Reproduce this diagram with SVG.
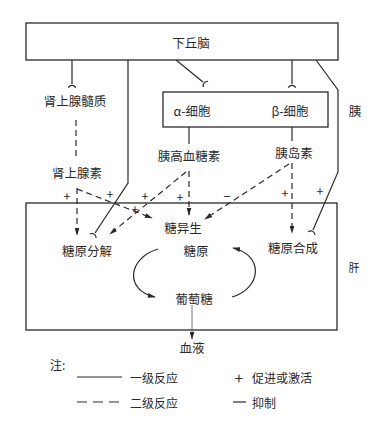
<svg xmlns="http://www.w3.org/2000/svg" width="383" height="424" viewBox="0 0 383 424">
<defs>
<style>
text{font-family:"Noto Sans CJK SC","Noto Sans",sans-serif;font-size:12.5px;fill:#2a2a2a;text-anchor:middle;dominant-baseline:central}
.box{fill:none;stroke:#2a2a2a;stroke-width:1.3}
.s{fill:none;stroke:#2a2a2a;stroke-width:1.2}
.d{fill:none;stroke:#2a2a2a;stroke-width:1.2;stroke-dasharray:6 4}
.sm{font-size:11px}
.lg{font-size:12px;text-anchor:start}
</style>
<marker id="arr" viewBox="0 0 10 6" refX="9" refY="3" markerWidth="8" markerHeight="5" markerUnits="userSpaceOnUse" orient="auto">
<path d="M0,0 L10,3 L0,6 Z" fill="#2a2a2a"/>
</marker>
<marker id="fork" viewBox="-5 -5 10 10" refX="0" refY="0" markerWidth="10" markerHeight="10" markerUnits="userSpaceOnUse" orient="auto">
<path d="M3.5,-3.8 Q-0.8,0 3.5,3.8" fill="none" stroke="#2a2a2a" stroke-width="1.2"/>
</marker>
</defs>
<rect width="383" height="424" fill="#fff"/>

<g id="hypothalamus"><rect class="box" x="26" y="23" width="312" height="37"/><text x="191" y="42">下丘脑</text></g>
<g id="adrenal-medulla"><text x="75" y="100">肾上腺髓质</text></g>
<g id="islet-cells"><rect class="box" x="163" y="92" width="165" height="35"/><text x="192" y="110">α-细胞</text><text x="290" y="110">β-细胞</text></g>
<g id="pancreas"><text x="355" y="110">胰</text></g>
<g id="glucagon"><text x="189" y="155">胰高血糖素</text></g>
<g id="insulin"><text x="294" y="152">胰岛素</text></g>
<g id="adrenaline"><text x="77" y="172">肾上腺素</text></g>
<g id="liver"><rect class="box" x="26" y="203" width="311" height="127"/><text class="sm" x="354" y="267">肝</text></g>
<g id="gluconeogenesis"><text x="183" y="227">糖异生</text></g>
<g id="glycogenolysis"><text x="87" y="250">糖原分解</text></g>
<g id="glycogen"><text x="196" y="250">糖原</text></g>
<g id="glycogenesis"><text x="293" y="247">糖原合成</text></g>
<g id="glucose"><text x="194" y="298">葡萄糖</text></g>
<g id="blood"><text x="192" y="347">血液</text></g>

<g id="connectors">
<line class="s" x1="72" y1="60" x2="72" y2="84" marker-end="url(#fork)"/>
<polyline class="s" points="128,60 128,183 95,233" marker-end="url(#fork)"/>
<line class="s" x1="176" y1="60" x2="203" y2="82" marker-end="url(#fork)"/>
<line class="s" x1="292" y1="60" x2="292" y2="84" marker-end="url(#fork)"/>
<polyline class="s" points="316,60 338,90 338,172 313,230" marker-end="url(#fork)"/>
<line class="d" x1="76" y1="120" x2="76" y2="160"/>
<line class="d" x1="77" y1="188" x2="77" y2="235" marker-end="url(#arr)"/>
<line class="d" x1="77" y1="189" x2="152" y2="218" marker-end="url(#arr)"/>
<line class="s" x1="189" y1="127" x2="189" y2="144"/>
<line class="d" x1="189" y1="171" x2="189" y2="215" marker-end="url(#arr)"/>
<line class="d" x1="186" y1="172" x2="110" y2="234" marker-end="url(#arr)"/>
<line class="s" x1="292" y1="127" x2="292" y2="141"/>
<line class="d" x1="292" y1="163" x2="292" y2="233" marker-end="url(#arr)"/>
<line class="d" x1="289" y1="164" x2="205" y2="219" marker-end="url(#arr)"/>
<path class="s" d="M158,249 C128,258 124,290 155,297" marker-end="url(#arr)"/>
<path class="s" d="M232,297 C262,288 264,255 233,248" marker-end="url(#arr)"/>
<line x1="192" y1="305" x2="192" y2="339" stroke="#555" stroke-width="0.8" marker-end="url(#arr)"/>
</g>

<g id="signs">
<text x="67" y="195">+</text>
<text x="110" y="193">+</text>
<text x="135" y="208">+</text>
<text x="145" y="195">+</text>
<text x="180" y="196">+</text>
<text x="227" y="195">−</text>
<text x="285" y="192">+</text>
<text x="320" y="190">+</text>
</g>

<g id="legend">
<text class="lg" x="50" y="364">注:</text>
<line class="s" x1="77" y1="377" x2="122" y2="377"/>
<text class="lg" x="130" y="377">一级反应</text>
<text x="239" y="377" style="font-size:15px">+</text>
<text class="lg" x="252" y="377">促进或激活</text>
<line class="d" x1="77" y1="402" x2="122" y2="402" style="stroke-dasharray:10 6"/>
<text class="lg" x="130" y="402">二级反应</text>
<line class="s" x1="233" y1="402" x2="246" y2="402"/>
<text class="lg" x="252" y="402">抑制</text>
</g>
</svg>
